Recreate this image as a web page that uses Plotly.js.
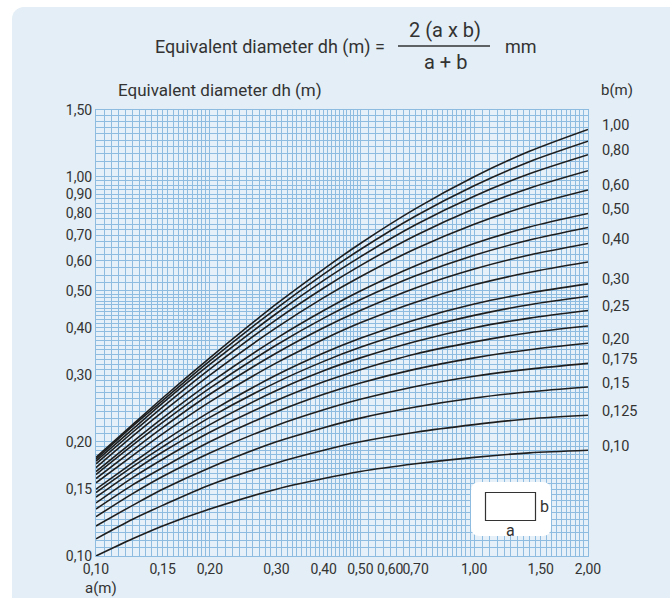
<!DOCTYPE html>
<html><head><meta charset="utf-8">
<script src="https://cdn.plot.ly/plotly-3.0.1.min.js"></script>
<style>
html,body{margin:0;padding:0;background:#fff;overflow:hidden;}
#bg{position:absolute;left:12px;top:7px;width:658px;height:591px;background:#e3eef6;border-top-left-radius:12px;}
#chart{position:absolute;left:0;top:0;width:670px;height:598px;}
</style></head><body>
<div id="bg"></div><div id="chart"></div>
<script>
// side a (m) sample positions
const aValues = [0.10, 0.125, 0.15, 0.20, 0.30, 0.40, 0.50, 0.70, 1.00, 1.40, 2.00];
// side b (m) of each curve, and the label shown at right
const bValues = [1.00, 0.90, 0.80, 0.70, 0.60, 0.50, 0.45, 0.40, 0.35, 0.30, 0.275, 0.25, 0.225, 0.20, 0.175, 0.15, 0.125, 0.10];
const bLabels = ['1,00', '', '0,80', '', '0,60', '0,50', '', '0,40', '', '0,30', '', '0,25', '', '0,20', '0,175', '0,15', '0,125', '0,10'];

// equivalent diameter dh (m) read for each b curve at aValues
const dh_b100  = [0.182, 0.222, 0.261, 0.333, 0.462, 0.571, 0.667, 0.824, 1.000, 1.167, 1.333];
const dh_b090  = [0.180, 0.220, 0.257, 0.327, 0.450, 0.554, 0.643, 0.788, 0.947, 1.096, 1.241];
const dh_b080  = [0.178, 0.216, 0.253, 0.320, 0.436, 0.533, 0.615, 0.747, 0.889, 1.018, 1.143];
const dh_b070  = [0.175, 0.212, 0.247, 0.311, 0.420, 0.509, 0.583, 0.700, 0.824, 0.933, 1.037];
const dh_b060  = [0.171, 0.207, 0.240, 0.300, 0.400, 0.480, 0.545, 0.646, 0.750, 0.840, 0.923];
const dh_b050  = [0.167, 0.200, 0.231, 0.286, 0.375, 0.444, 0.500, 0.583, 0.667, 0.737, 0.800];
const dh_b045  = [0.164, 0.196, 0.225, 0.277, 0.360, 0.424, 0.474, 0.548, 0.621, 0.681, 0.735];
const dh_b040  = [0.160, 0.190, 0.218, 0.267, 0.343, 0.400, 0.444, 0.509, 0.571, 0.622, 0.667];
const dh_b035  = [0.156, 0.184, 0.210, 0.255, 0.323, 0.373, 0.412, 0.467, 0.519, 0.560, 0.596];
const dh_b030  = [0.150, 0.176, 0.200, 0.240, 0.300, 0.343, 0.375, 0.420, 0.462, 0.494, 0.522];
const dh_b0275 = [0.147, 0.172, 0.194, 0.232, 0.287, 0.326, 0.355, 0.395, 0.431, 0.460, 0.484];
const dh_b025  = [0.143, 0.167, 0.188, 0.222, 0.273, 0.308, 0.333, 0.368, 0.400, 0.424, 0.444];
const dh_b0225 = [0.138, 0.161, 0.180, 0.212, 0.257, 0.288, 0.310, 0.341, 0.367, 0.388, 0.404];
const dh_b020  = [0.133, 0.154, 0.171, 0.200, 0.240, 0.267, 0.286, 0.311, 0.333, 0.350, 0.364];
const dh_b0175 = [0.127, 0.146, 0.162, 0.187, 0.221, 0.243, 0.259, 0.280, 0.298, 0.311, 0.322];
const dh_b015  = [0.120, 0.136, 0.150, 0.171, 0.200, 0.218, 0.231, 0.247, 0.261, 0.271, 0.279];
const dh_b0125 = [0.111, 0.125, 0.136, 0.154, 0.176, 0.190, 0.200, 0.212, 0.222, 0.230, 0.235];
const dh_b010  = [0.100, 0.111, 0.120, 0.133, 0.150, 0.160, 0.167, 0.175, 0.182, 0.187, 0.190];

const curves = [dh_b100, dh_b090, dh_b080, dh_b070, dh_b060, dh_b050, dh_b045, dh_b040, dh_b035,
                dh_b030, dh_b0275, dh_b025, dh_b0225, dh_b020, dh_b0175, dh_b015, dh_b0125, dh_b010];

const xTickVals = [0.10, 0.15, 0.20, 0.30, 0.40, 0.50, 0.60, 0.70, 1.00, 1.50, 2.00];
const xTickText = ['0,10', '0,15', '0,20', '0,30', '0,40', '0,50', '0,60', '0,70', '1,00', '1,50', '2,00'];
const yTickVals = [0.10, 0.15, 0.20, 0.30, 0.40, 0.50, 0.60, 0.70, 0.80, 0.90, 1.00, 1.50];
const yTickText = ['0,10', '0,15', '0,20', '0,30', '0,40', '0,50', '0,60', '0,70', '0,80', '0,90', '1,00', '1,50'];

// graph-paper grid
function gridVals(maxV) {
  const v = [];
  const seg = (lo, hi, step) => { const n = Math.round((hi - lo) / step); for (let i = 0; i < n; i++) v.push(+(lo + i * step).toFixed(4)); };
  seg(0.1, 0.2, 0.005); seg(0.2, 0.5, 0.01); seg(0.5, 1.0, 0.025); seg(1.0, maxV, 0.05);
  v.push(maxV);
  return v;
}
const gridX = gridVals(2.0), gridY = gridVals(1.5);

const L = 96, R = 588, T = 110, B = 556;
const px = x => (x - L) / (R - L);
const py = y => (B - y) / (B - T);

const FONT = 'Roboto, "Open Sans", sans-serif';
const TXT = '#333333';
const GRID = '#8dbce0';

const traces = curves.map((c, i) => ({
  x: aValues, y: c, type: 'scatter', mode: 'lines',
  line: {color: '#1e1e1e', width: 1.6, shape: 'spline', smoothing: 0.8},
  hoverinfo: 'skip', showlegend: false, name: 'b=' + bValues[i]
}));

const ann = [];
const A = (text, x, y, xa, ya, size) => ann.push({text, x: px(x), y: py(y), xref: 'paper', yref: 'paper',
  xanchor: xa, yanchor: ya, showarrow: false, font: {family: FONT, size: size, color: TXT}});
A('Equivalent diameter dh (m) =', 387, 47, 'right', 'middle', 18);
A('2 (a x b)', 445, 30, 'center', 'middle', 20);
A('a + b', 445, 62, 'center', 'middle', 20);
A('mm', 503, 47, 'left', 'middle', 18);
A('Equivalent diameter dh (m)', 116, 90, 'left', 'middle', 17);
A('b(m)', 599, 90, 'left', 'middle', 15);
A('a(m)', 101, 588, 'center', 'middle', 15);
A('b', 544, 506, 'center', 'middle', 16);
A('a', 510, 530, 'center', 'middle', 16);

curves.forEach((c, i) => {
  if (!bLabels[i]) return;
  ann.push({text: bLabels[i], x: 1, xref: 'paper', xanchor: 'left', xshift: 12,
    y: Math.log10(c[c.length - 1]), yref: 'y', yanchor: 'middle', yshift: 4,
    showarrow: false, font: {family: FONT, size: 14.5, color: TXT}});
});

// rounded white inset box
function roundRect(x0, y0, x1, y1, r) {
  const rx = r / (R - L), ry = r / (B - T);
  const X0 = px(x0), X1 = px(x1), Y0 = py(y0), Y1 = py(y1);
  return `M ${X0 + rx} ${Y0} L ${X1 - rx} ${Y0} Q ${X1} ${Y0} ${X1} ${Y0 - ry} L ${X1} ${Y1 + ry} Q ${X1} ${Y1} ${X1 - rx} ${Y1} ` +
         `L ${X0 + rx} ${Y1} Q ${X0} ${Y1} ${X0} ${Y1 + ry} L ${X0} ${Y0 - ry} Q ${X0} ${Y0} ${X0 + rx} ${Y0} Z`;
}
const shapes = [
  {type: 'line', xref: 'paper', yref: 'paper', x0: px(398), x1: px(490), y0: py(46), y1: py(46), line: {color: TXT, width: 1.3}},
  {type: 'path', xref: 'paper', yref: 'paper', path: roundRect(471, 482, 551, 536, 9), fillcolor: '#ffffff', line: {width: 0}, layer: 'above'},
  {type: 'rect', xref: 'paper', yref: 'paper', x0: px(485.5), x1: px(535.5), y0: py(492.5), y1: py(520.5), fillcolor: '#ffffff', line: {color: '#333333', width: 1.2}, layer: 'above'}
];

const axisCommon = {
  type: 'log', showgrid: true, gridcolor: GRID, gridwidth: 1, zeroline: false,
  showline: true, linecolor: GRID, linewidth: 1, mirror: true, ticks: '',
  tickfont: {family: FONT, size: 14, color: TXT}, tickmode: 'array', tickangle: 0
};
const layout = {
  width: 670, height: 598,
  margin: {l: L, r: 670 - R, t: T, b: 598 - B},
  paper_bgcolor: 'rgba(0,0,0,0)', plot_bgcolor: '#e6f0f8',
  showlegend: false,
  xaxis: Object.assign({}, axisCommon, {range: [-1, Math.log10(2)], tickvals: xTickVals, ticktext: xTickText,
    minor: {tickmode: 'array', tickvals: gridX, showgrid: true, gridcolor: GRID, gridwidth: 1, ticks: ''}}),
  yaxis: Object.assign({}, axisCommon, {range: [-1, Math.log10(1.5)], tickvals: yTickVals, ticktext: yTickText,
    minor: {tickmode: 'array', tickvals: gridY, showgrid: true, gridcolor: GRID, gridwidth: 1, ticks: ''}}),
  annotations: ann, shapes: shapes
};
Plotly.newPlot('chart', traces, layout, {displayModeBar: false, staticPlot: true});
</script></body></html>
